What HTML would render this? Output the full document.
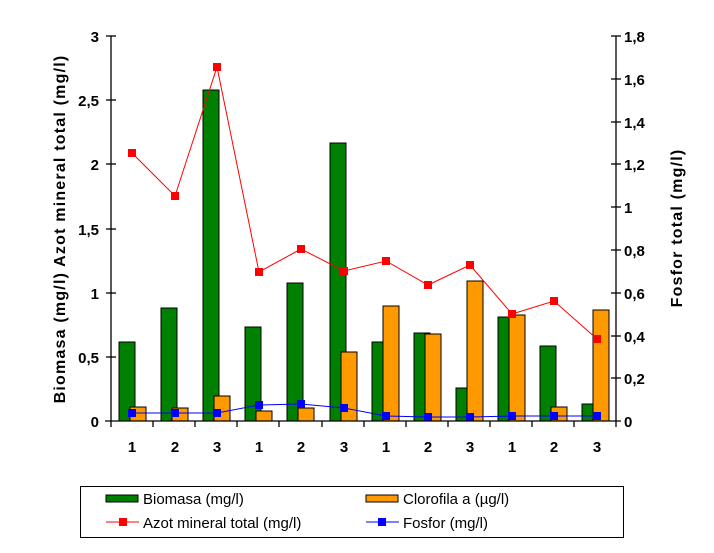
<html><body style="margin:0;background:#fff">
<svg width="714" height="553" xmlns="http://www.w3.org/2000/svg" font-family="Liberation Sans, sans-serif">
<rect width="714" height="553" fill="#fff"/>
<g id="bars" stroke="#000" stroke-width="1">
<rect x="119" y="342" width="16" height="79" fill="#008000"/>
<rect x="161" y="308" width="16" height="113" fill="#008000"/>
<rect x="203" y="90" width="16" height="331" fill="#008000"/>
<rect x="245" y="327" width="16" height="94" fill="#008000"/>
<rect x="287" y="283" width="16" height="138" fill="#008000"/>
<rect x="330" y="143" width="16" height="278" fill="#008000"/>
<rect x="372" y="342" width="16" height="79" fill="#008000"/>
<rect x="414" y="333" width="16" height="88" fill="#008000"/>
<rect x="456" y="388" width="16" height="33" fill="#008000"/>
<rect x="498" y="317" width="16" height="104" fill="#008000"/>
<rect x="540" y="346" width="16" height="75" fill="#008000"/>
<rect x="582" y="404" width="16" height="17" fill="#008000"/>
<rect x="130" y="407" width="16" height="14" fill="#ff9900"/>
<rect x="172" y="408" width="16" height="13" fill="#ff9900"/>
<rect x="214" y="396" width="16" height="25" fill="#ff9900"/>
<rect x="256" y="411" width="16" height="10" fill="#ff9900"/>
<rect x="298" y="408" width="16" height="13" fill="#ff9900"/>
<rect x="341" y="352" width="16" height="69" fill="#ff9900"/>
<rect x="383" y="306" width="16" height="115" fill="#ff9900"/>
<rect x="425" y="334" width="16" height="87" fill="#ff9900"/>
<rect x="467" y="281" width="16" height="140" fill="#ff9900"/>
<rect x="509" y="315" width="16" height="106" fill="#ff9900"/>
<rect x="551" y="407" width="16" height="14" fill="#ff9900"/>
<rect x="593" y="310" width="16" height="111" fill="#ff9900"/>
</g>
<polyline fill="none" stroke="#ff0000" stroke-width="1" points="132,153 175,196 217,67 259,272 301,249 344,271 386,261 428,285 470,265 512,314 554,301 597,339"/>
<g fill="#ff0000"><rect x="128" y="149" width="8" height="8"/><rect x="171" y="192" width="8" height="8"/><rect x="213" y="63" width="8" height="8"/><rect x="255" y="268" width="8" height="8"/><rect x="297" y="245" width="8" height="8"/><rect x="340" y="267" width="8" height="8"/><rect x="382" y="257" width="8" height="8"/><rect x="424" y="281" width="8" height="8"/><rect x="466" y="261" width="8" height="8"/><rect x="508" y="310" width="8" height="8"/><rect x="550" y="297" width="8" height="8"/><rect x="593" y="335" width="8" height="8"/></g>
<polyline fill="none" stroke="#0000ff" stroke-width="1" points="132,413 175,413 217,413 259,405 301,404 344,408 386,416 428,417 470,417 512,416 554,416 597,416"/>
<g fill="#0000ff"><rect x="128" y="409" width="8" height="8"/><rect x="171" y="409" width="8" height="8"/><rect x="213" y="409" width="8" height="8"/><rect x="255" y="401" width="8" height="8"/><rect x="297" y="400" width="8" height="8"/><rect x="340" y="404" width="8" height="8"/><rect x="382" y="412" width="8" height="8"/><rect x="424" y="413" width="8" height="8"/><rect x="466" y="413" width="8" height="8"/><rect x="508" y="412" width="8" height="8"/><rect x="550" y="412" width="8" height="8"/><rect x="593" y="412" width="8" height="8"/></g>
<g stroke="#000" stroke-width="1.3">
<line x1="111" y1="36" x2="111" y2="427"/>
<line x1="616" y1="36" x2="616" y2="427"/>
<line x1="105" y1="421" x2="621" y2="421"/>
<line x1="106" y1="36" x2="116" y2="36"/><line x1="106" y1="100" x2="116" y2="100"/><line x1="106" y1="164" x2="116" y2="164"/><line x1="106" y1="229" x2="116" y2="229"/><line x1="106" y1="293" x2="116" y2="293"/><line x1="106" y1="357" x2="116" y2="357"/>
<line x1="611" y1="36" x2="621" y2="36"/><line x1="611" y1="79" x2="621" y2="79"/><line x1="611" y1="122" x2="621" y2="122"/><line x1="611" y1="164" x2="621" y2="164"/><line x1="611" y1="207" x2="621" y2="207"/><line x1="611" y1="250" x2="621" y2="250"/><line x1="611" y1="293" x2="621" y2="293"/><line x1="611" y1="336" x2="621" y2="336"/><line x1="611" y1="378" x2="621" y2="378"/>
<line x1="153" y1="421" x2="153" y2="427"/><line x1="195" y1="421" x2="195" y2="427"/><line x1="237" y1="421" x2="237" y2="427"/><line x1="279" y1="421" x2="279" y2="427"/><line x1="322" y1="421" x2="322" y2="427"/><line x1="364" y1="421" x2="364" y2="427"/><line x1="406" y1="421" x2="406" y2="427"/><line x1="448" y1="421" x2="448" y2="427"/><line x1="490" y1="421" x2="490" y2="427"/><line x1="532" y1="421" x2="532" y2="427"/><line x1="574" y1="421" x2="574" y2="427"/>
</g>
<g font-size="15" font-weight="bold" text-anchor="end">
<text x="99" y="42">3</text><text x="99" y="106">2,5</text><text x="99" y="170">2</text><text x="99" y="235">1,5</text><text x="99" y="299">1</text><text x="99" y="363">0,5</text><text x="99" y="427">0</text>
</g>
<g font-size="15" font-weight="bold" text-anchor="start">
<text x="624" y="42">1,8</text><text x="624" y="85">1,6</text><text x="624" y="128">1,4</text><text x="624" y="170">1,2</text><text x="624" y="213">1</text><text x="624" y="256">0,8</text><text x="624" y="299">0,6</text><text x="624" y="342">0,4</text><text x="624" y="384">0,2</text><text x="624" y="427">0</text>
</g>
<g font-size="15" font-weight="bold" text-anchor="middle">
<text x="132" y="452">1</text><text x="175" y="452">2</text><text x="217" y="452">3</text><text x="259" y="452">1</text><text x="301" y="452">2</text><text x="344" y="452">3</text><text x="386" y="452">1</text><text x="428" y="452">2</text><text x="470" y="452">3</text><text x="512" y="452">1</text><text x="554" y="452">2</text><text x="597" y="452">3</text>
</g>
<text transform="translate(65,229) rotate(-90)" font-size="16" letter-spacing="1.2" font-weight="bold" text-anchor="middle">Biomasa (mg/l) Azot mineral total (mg/l)</text>
<text transform="translate(682,228) rotate(-90)" font-size="16" letter-spacing="1.2" font-weight="bold" text-anchor="middle">Fosfor total (mg/l)</text>
<rect x="80.5" y="486.5" width="543" height="51" fill="none" stroke="#000"/>
<rect x="106" y="495" width="32" height="7" fill="#008000" stroke="#000"/>
<rect x="366" y="495" width="32" height="7" fill="#ff9900" stroke="#000"/>
<line x1="106" y1="522" x2="139" y2="522" stroke="#f00"/><rect x="119" y="518" width="8" height="8" fill="#f00"/>
<line x1="366" y1="522" x2="399" y2="522" stroke="#00f"/><rect x="378" y="518" width="8" height="8" fill="#00f"/>
<g font-size="15">
<text x="143" y="504">Biomasa (mg/l)</text>
<text x="403" y="504">Clorofila a (µg/l)</text>
<text x="143" y="528">Azot mineral total (mg/l)</text>
<text x="403" y="528">Fosfor (mg/l)</text>
</g>
</svg>
</body></html>
